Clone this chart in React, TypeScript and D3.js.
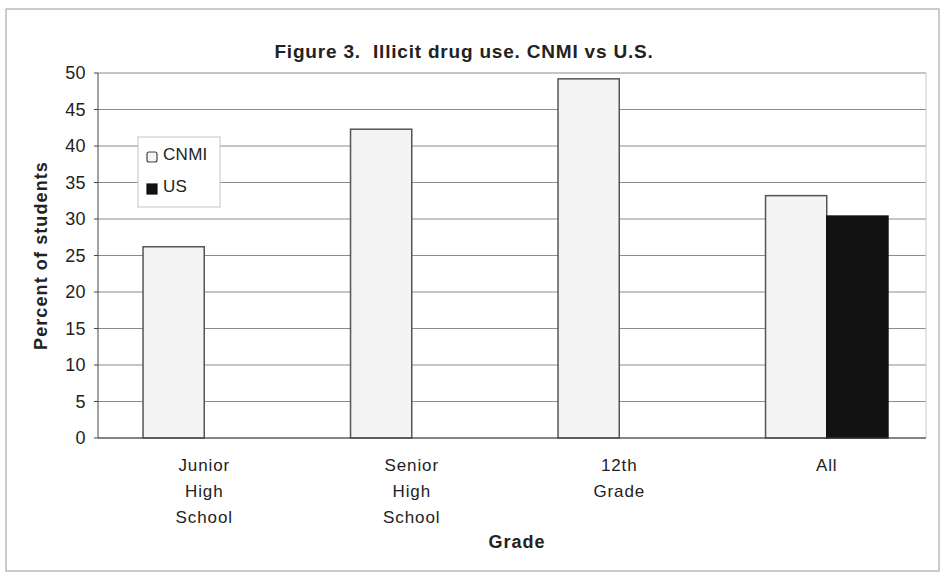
import React from "react";
import * as d3 from "d3";

const grades = ["Junior\nHigh\nSchool", "Senior\nHigh\nSchool", "12th\nGrade", "All"];
const seriesNames = ["CNMI", "US"];
const cnmiValues: (number | null)[] = [26.2, 42.3, 49.2, 33.2];
const usValues: (number | null)[] = [null, null, null, 30.4];
const yTicks = [0, 5, 10, 15, 20, 25, 30, 35, 40, 45, 50];

const W = 943;
const H = 578;
const plot = { left: 98, right: 926, top: 73, bottom: 438 };

export default function App() {
  const x = d3
    .scaleBand<string>()
    .domain(grades)
    .range([plot.left, 933])
    .paddingInner(0.41)
    .paddingOuter(0.217);
  const inner = d3.scaleBand<string>().domain(seriesNames).range([0, x.bandwidth()]);
  const y = d3.scaleLinear().domain([0, 50]).range([plot.bottom, plot.top]);

  const series = [
    { name: "CNMI", values: cnmiValues, fill: "#f4f4f4", stroke: "#555" },
    { name: "US", values: usValues, fill: "#121212", stroke: "#121212" },
  ];

  const font = "Arial, 'Liberation Sans', sans-serif";

  return (
    <svg
      width={W}
      height={H}
      style={{ position: "absolute", left: 0, top: 0, background: "#fff" }}
      fontFamily={font}
    >
      {/* outer frame */}
      <rect x={6} y={9} width={933} height={562} fill="#fff" stroke="#9a9a9a" strokeWidth={1} />

      {/* title */}
      <text
        x={464}
        y={58}
        textAnchor="middle"
        fontSize={19}
        fontWeight="bold"
        letterSpacing={0.8}
        fill="#222"
        xmlSpace="preserve"
        style={{ whiteSpace: "pre" }}
      >
        Figure 3.  Illicit drug use. CNMI vs U.S.
      </text>

      {/* gridlines */}
      {yTicks.map((t) => (
        <line
          key={"g" + t}
          x1={plot.left}
          x2={plot.right}
          y1={y(t)}
          y2={y(t)}
          stroke="#8c8c8c"
          strokeWidth={1}
        />
      ))}
      <line x1={plot.right} x2={plot.right} y1={plot.top} y2={plot.bottom} stroke="#c8c8c8" />

      {/* bars */}
      {series.map((s) =>
        s.values.map((v, i) =>
          v == null ? null : (
            <rect
              key={s.name + i}
              x={(x(grades[i]) as number) + (inner(s.name) as number)}
              y={y(v)}
              width={inner.bandwidth()}
              height={plot.bottom - y(v)}
              fill={s.fill}
              stroke={s.stroke}
              strokeWidth={1.5}
            />
          )
        )
      )}

      {/* axes */}
      <line x1={plot.left} x2={plot.left} y1={plot.top} y2={plot.bottom} stroke="#444" strokeWidth={1} />
      <line x1={plot.left} x2={plot.right} y1={plot.bottom} y2={plot.bottom} stroke="#444" strokeWidth={1} />
      {yTicks.map((t) => (
        <g key={"t" + t}>
          <line x1={plot.left - 4} x2={plot.left} y1={y(t)} y2={y(t)} stroke="#444" />
          <text x={plot.left - 12} y={y(t) + 6} textAnchor="end" fontSize={18} letterSpacing={0.4} fill="#222">
            {t}
          </text>
        </g>
      ))}

      {/* category labels */}
      {grades.map((g) => {
        const cx = (x(g) as number) + x.bandwidth() / 2;
        return (
          <text key={g} x={cx} y={471} textAnchor="middle" fontSize={17} letterSpacing={0.9} fill="#222">
            {g.split("\n").map((line, k) => (
              <tspan key={k} x={cx} dy={k === 0 ? 0 : 26}>
                {line}
              </tspan>
            ))}
          </text>
        );
      })}

      {/* axis titles */}
      <text x={517} y={548} textAnchor="middle" fontSize={18} fontWeight="bold" letterSpacing={1} fill="#222">
        Grade
      </text>
      <text
        transform={`translate(47,${(plot.top + plot.bottom) / 2}) rotate(-90)`}
        textAnchor="middle"
        fontSize={18}
        fontWeight="bold"
        letterSpacing={1.1}
        fill="#222"
      >
        Percent of students
      </text>

      {/* legend */}
      <g>
        <rect x={138} y={137} width={82} height={70} fill="#fff" stroke="#c4c4c4" />
        {series.map((s, i) => (
          <g key={"l" + s.name}>
            <rect
              x={147}
              y={152 + i * 32}
              width={10}
              height={10}
              fill={s.fill}
              stroke={i === 0 ? "#444" : s.stroke}
              strokeWidth={1.2}
              rx={i === 0 ? 2 : 0}
            />
            <text x={163} y={160 + i * 32} fontSize={17} letterSpacing={0.3} fill="#222">
              {s.name}
            </text>
          </g>
        ))}
      </g>
    </svg>
  );
}
